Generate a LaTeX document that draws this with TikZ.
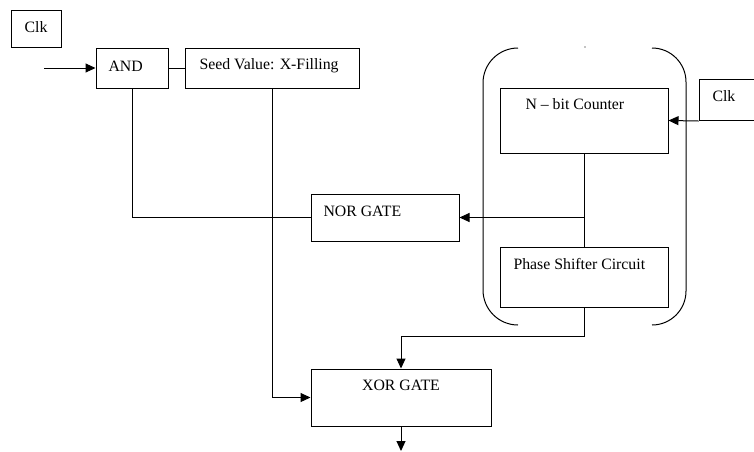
\documentclass[tikz,border=0pt]{standalone}
\usepackage{fontspec}
\setmainfont{Liberation Serif}
\usetikzlibrary{arrows.meta}
\begin{document}
\begin{tikzpicture}[x=1pt,y=-1pt,
  line width=1pt,
  box/.style={draw,rectangle,inner sep=0pt},
  lbl/.style={inner sep=0pt,font=\fontsize{15.8}{18}\selectfont},
  arr/.style={-{Triangle[length=10pt,width=9pt]}}]
\useasboundingbox (0,0) rectangle (754,451);
\clip (0,0) rectangle (754,451);
% boxes
\node[box,minimum width=50pt,minimum height=37pt] (clka) at (36,28.5) {};
\node[lbl] (clkat) at (36,27) {Clk};
\node[box,minimum width=72pt,minimum height=40pt] (and) at (132,68) {};
\node[lbl,anchor=west] (andt) at (108,66) {AND};
\node[box,minimum width=174pt,minimum height=40pt] (seed) at (272,68) {};
\node[lbl,anchor=west] (seedt) at (199,66) {Seed Value: X-Filling};
\node[box,minimum width=148pt,minimum height=47pt] (nor) at (385,217.5) {};
\node[lbl,anchor=west] (nort) at (323,211) {NOR GATE};
\node[box,minimum width=168pt,minimum height=65pt] (cnt) at (584,120.5) {};
\node[lbl,anchor=west] (cntt) at (525,104) {N -- bit Counter};
\node[box,minimum width=168pt,minimum height=60pt] (ph) at (584,277) {};
\node[lbl,anchor=west] (pht) at (513,264) {Phase Shifter Circuit};
\node[box,minimum width=180pt,minimum height=57pt] (xor) at (401,397.5) {};
\node[lbl] (xort) at (401,385) {XOR GATE};
\node[box,minimum width=71pt,minimum height=41pt] (clkb) at (734.5,100) {};
\node[lbl,anchor=west] (clkbt) at (712,96) {Clk};
% grouping bracket
\draw[rounded corners=35pt] (518,48) -- (483,48) -- (483,325) -- (518,325);
\draw[rounded corners=34pt] (652,48) -- (686,48) -- (686,325) -- (652,325);
\fill (585,47) circle (0.6pt);
% connectors
\coordinate (inA) at (44,68);
\coordinate (outX) at (401,451);
\draw[arr] (inA) -- (and.west);
\draw (and.east) -- (seed.west);
\draw (and.south) |- (nor.west);
\draw (cnt.south) -- (ph.north);
\draw[arr] (cnt.south |- nor.east) -- (nor.east);
\draw[arr] (clkb.south west) -- (cnt.east);
\draw[arr] (seed.south) |- (xor.west);
\draw[arr] (ph.south) -- ++(0,29) -| (xor.north);
\draw[arr] (xor.south) -- (outX);
\end{tikzpicture}
\end{document}
